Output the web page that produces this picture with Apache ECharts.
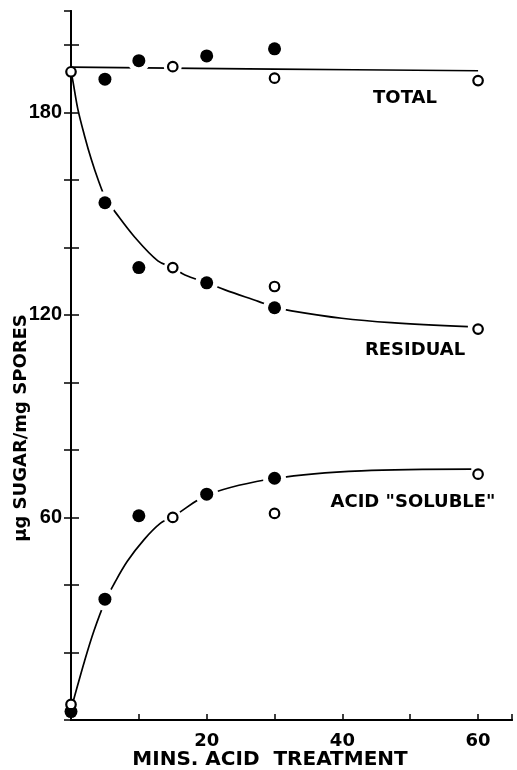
<!DOCTYPE html>
<html>
<head>
<meta charset="utf-8">
<script src="https://cdn.jsdelivr.net/npm/echarts@6/dist/echarts.min.js"></script>
<style>html,body{margin:0;padding:0;background:#fff}#c{width:517px;height:770px}</style>
</head>
<body>
<div id="c"></div>
<script>
// ---- data (minutes of acid treatment, µg sugar / mg spores) ----
const xTickLabels = [20, 40, 60];
const yTickLabels = [60, 120, 180];

const totalFilled    = [[5,189.8],[10,195.3],[20,196.7],[30,198.8]];
const totalOpen      = [[0,192.0],[15,193.5],[30,190.1],[60,189.4]];
const residualFilled = [[5,153.2],[10,134.0],[20,129.5],[30,122.1]];
const residualOpen   = [[15,134.0],[30,128.4],[60,115.8]];
const solubleFilled  = [[0,2.5],[5,35.8],[10,60.5],[20,66.9],[30,71.6]];
const solubleOpen    = [[0,4.6],[15,60.0],[30,61.2],[60,72.8]];

// hand-drawn fitted curves
const totalCurve    = [[0,193.4],[30,192.8],[60,192.3]];
const residualCurve = [[0,192],[0.3,189],[1,181],[2,173],[3,166],[4,160],[5.1,154.5],[6.5,150.5],[9.4,143],[12.8,136],[15,134],[16.8,131.8],[20,129.5],[22.7,127.4],[27.6,124],[30,122.3],[32.5,121.2],[39.9,119],[47.2,117.7],[58.5,116.5]];
const solubleCurve  = [[0.2,4.5],[0.5,6.8],[2,17.5],[3.4,26.5],[5,35],[6.4,40.5],[8.3,47],[10.8,53.5],[13.2,58.3],[15,60.2],[20.4,66.9],[30.2,71.6],[42.8,73.8],[59,74.3]];

// indices of markers that the curve runs through (line is broken around them)
const gapFilled = { total:[1], residual:[0,2,3], soluble:[1,3,4] };
const gapOpen   = { total:[1], residual:[0], soluble:[1] };

const pick = (arr, idx) => idx.map(i => arr[i]);
const haloFilled = [].concat(pick(totalFilled,gapFilled.total), pick(residualFilled,gapFilled.residual), pick(solubleFilled,gapFilled.soluble));
const haloOpen = [].concat(pick(totalOpen,gapOpen.total), pick(residualOpen,gapOpen.residual), pick(solubleOpen,gapOpen.soluble));

const FONT = 'DejaVu Sans';
const NUMFONT = 'Liberation Sans';
const chart = echarts.init(document.getElementById('c'), null, {renderer:'canvas'});

const lineS = (data) => ({
  type:'line', data, smooth:0.35, showSymbol:false, symbol:'none', z:2,
  lineStyle:{color:'#000', width:1.7}, silent:true, animation:false
});
const filledS = (data) => ({
  type:'scatter', data, symbol:'circle', symbolSize:13, z:5,
  itemStyle:{color:'#000', opacity:1}, animation:false
});
const openS = (data) => ({
  type:'scatter', data, symbol:'circle', symbolSize:9.5, z:5,
  itemStyle:{color:'#fff', borderColor:'#000', borderWidth:2.2, opacity:1}, animation:false
});
const haloS = (data, size) => ({
  type:'scatter', data, symbol:'circle', symbolSize:size, z:3,
  itemStyle:{color:'#fff', opacity:1}, animation:false, silent:true
});

const axisLine = {show:true, lineStyle:{color:'#000', width:2}};

chart.setOption({
  backgroundColor:'#fff',
  animation:false,
  grid:{left:71, right:5, top:11, bottom:50, containLabel:false},
  xAxis:[{
    type:'value', min:0, max:65, interval:10,
    axisLine, splitLine:{show:false},
    axisTick:{show:true, inside:true, length:6, lineStyle:{color:'#000', width:1.5}},
    axisLabel:{show:true, margin:12, color:'#000', fontFamily:FONT, fontWeight:'bold', fontSize:18,
      formatter: v => xTickLabels.includes(v) ? String(v) : ''}
  },{
    type:'value', min:0, max:65, position:'top',
    axisLine, splitLine:{show:false}, axisTick:{show:false}, axisLabel:{show:false}
  }],
  yAxis:[{
    type:'value', min:0, max:210, interval:20,
    axisLine, splitLine:{show:false},
    axisTick:{show:true, inside:true, length:8, lineStyle:{color:'#000', width:1.5}},
    axisLabel:{show:true, margin:9, color:'#000', fontFamily:NUMFONT, fontWeight:'bold', fontSize:20,
      formatter: v => yTickLabels.includes(v) ? String(v) : '', showMaxLabel:false}
  },{
    type:'value', min:0, max:210, interval:20, position:'right',
    axisLine, splitLine:{show:false},
    axisTick:{show:true, inside:true, length:7, lineStyle:{color:'#000', width:1.5}},
    axisLabel:{show:false}
  }],
  series:[
    lineS(totalCurve), lineS(residualCurve), lineS(solubleCurve),
    haloS(haloFilled, 23), haloS(haloOpen, 18),
    filledS(totalFilled), filledS(residualFilled), filledS(solubleFilled),
    openS(totalOpen), openS(residualOpen), openS(solubleOpen)
  ],
  graphic:[
    {type:'text', x:405, y:98, style:{text:'TOTAL', fontFamily:FONT, fontWeight:'bold', fontSize:18, fill:'#000', align:'center', verticalAlign:'middle'}},
    {type:'text', x:415, y:350, style:{text:'RESIDUAL', fontFamily:FONT, fontWeight:'bold', fontSize:18, fill:'#000', align:'center', verticalAlign:'middle'}},
    {type:'text', x:413, y:502, style:{text:'ACID "SOLUBLE"', fontFamily:FONT, fontWeight:'bold', fontSize:18, fill:'#000', align:'center', verticalAlign:'middle'}},
    {type:'text', x:270, y:760, style:{text:'MINS. ACID  TREATMENT', fontFamily:FONT, fontWeight:'bold', fontSize:20, fill:'#000', align:'center', verticalAlign:'middle'}},
    {type:'text', x:21, y:428, rotation:Math.PI/2, style:{text:'µg SUGAR/mg SPORES', fontFamily:FONT, fontWeight:'bold', fontSize:18, fill:'#000', align:'center', verticalAlign:'middle'}}
  ]
});
</script>
</body>
</html>
